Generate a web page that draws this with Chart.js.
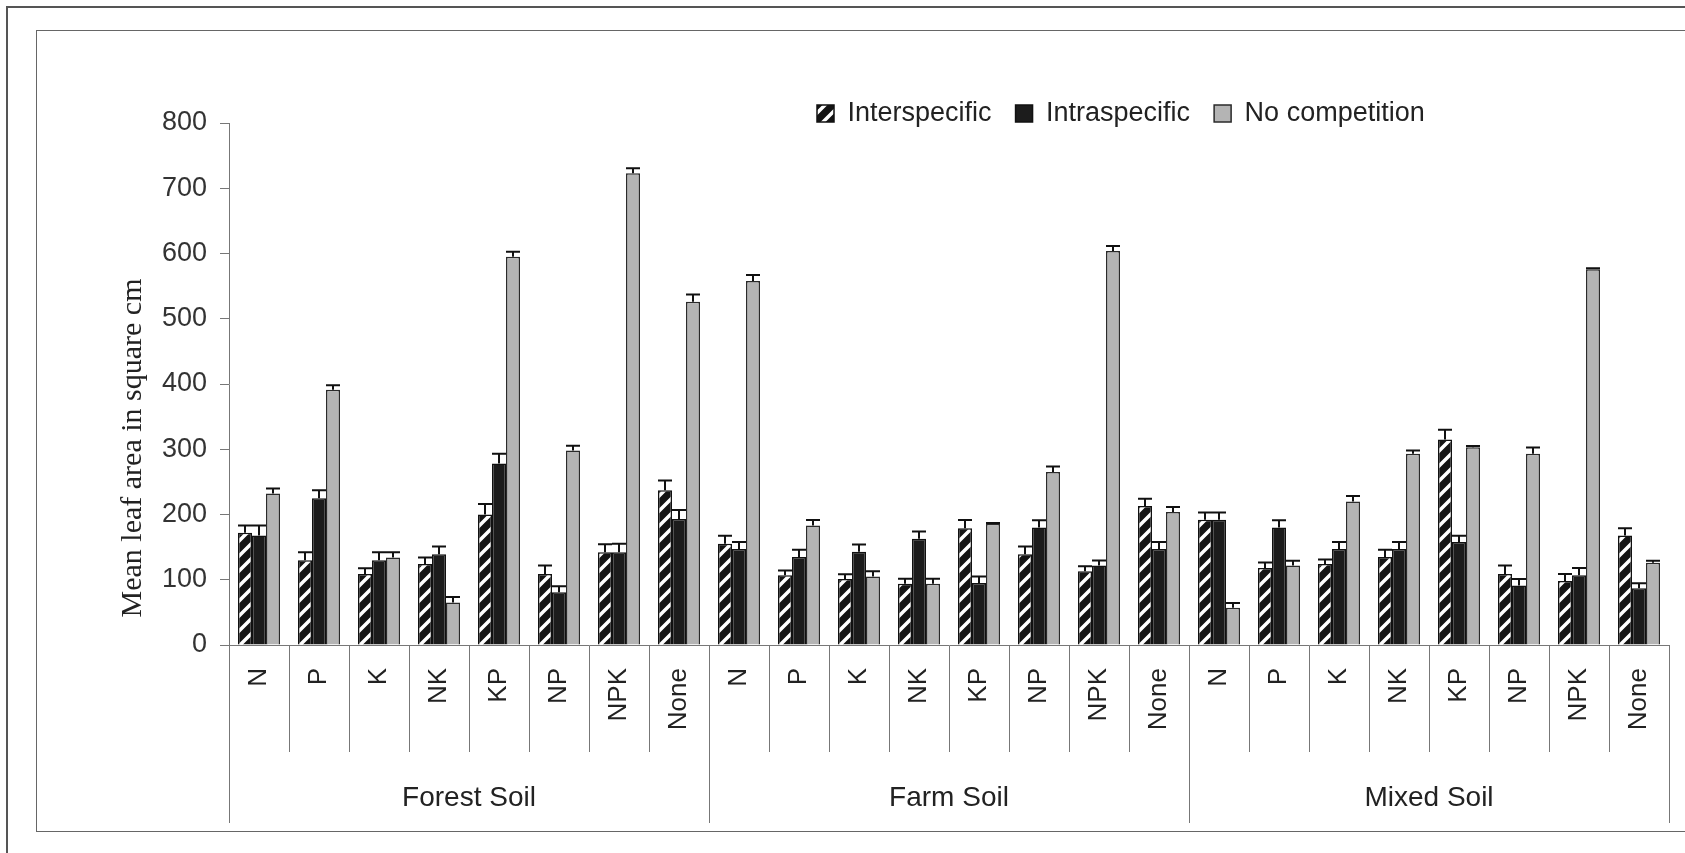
<!DOCTYPE html>
<html>
<head>
<meta charset="utf-8">
<script src="https://cdn.jsdelivr.net/npm/chart.js@4"></script>
<style>
  html, body { margin: 0; padding: 0; background: #fff; overflow: hidden; }
  #outer { position: absolute; left: 6px; top: 6px; width: 1800px; height: 1000px; border: 2px solid #555; }
  #inner { position: absolute; left: 36px; top: 30px; width: 1760px; height: 800px; border: 1.5px solid #666; }
  #chart { position: absolute; left: 0; top: 0; }
</style>
</head>
<body>
<div id="outer"></div>
<div id="inner"></div>
<canvas id="chart" width="1685" height="853"></canvas>
<script>
const soils = ["Forest Soil", "Farm Soil", "Mixed Soil"];
const treatments = ["N", "P", "K", "NK", "KP", "NP", "NPK", "None"];
const yTicks = [0, 100, 200, 300, 400, 500, 600, 700, 800];

const interspecific = [172, 130, 109, 124, 200, 109, 142, 237,
                       155, 107, 101, 94, 179, 139, 113, 213,
                       192, 118, 124, 135, 315, 109, 98, 168];
const intraspecific = [168, 225, 130, 139, 278, 81, 142, 193,
                       147, 135, 143, 163, 95, 180, 122, 147,
                       192, 180, 147, 147, 158, 91, 107, 87];
const noCompetition = [232, 391, 134, 65, 595, 298, 723, 526,
                       558, 183, 105, 94, 186, 265, 604, 204,
                       57, 122, 220, 293, 303, 293, 576, 126];

const interErr = [11, 12, 8.5, 10, 16, 13, 12.5, 15,
                  12.5, 7, 7.5, 7.5, 12.5, 12, 7.5, 11,
                  11, 8.5, 7, 11, 15, 13, 11, 11];
const intraErr = [15, 12, 12, 12, 15, 9, 13, 14,
                  11, 11, 11, 11, 10, 11, 7.5, 11,
                  11, 11, 11, 11, 9.6, 10, 11, 7.5];
const noCompErr = [8, 7, 8, 8.5, 7.5, 7.5, 7.5, 11,
                   9, 8.5, 8, 7.5, 1, 8.5, 7.5, 7.5,
                   7.5, 7, 8.5, 5, 2, 9.6, 1.5, 3];

// one label per bar group: treatments repeated for each soil
const labels = [];
soils.forEach(() => treatments.forEach(t => labels.push(t)));

function hatchPattern() {
  const size = 15;
  const c = document.createElement("canvas");
  c.width = size;
  c.height = size;
  const g = c.getContext("2d");
  g.fillStyle = "#141414";
  g.fillRect(0, 0, size, size);
  g.strokeStyle = "#ffffff";
  g.lineWidth = 3.5;
  g.beginPath();
  g.moveTo(-2, size + 2); g.lineTo(size + 2, -2);
  g.moveTo(-2, 2); g.lineTo(2, -2);
  g.moveTo(size - 2, size + 2); g.lineTo(size + 2, size - 2);
  g.stroke();
  return g.createPattern(c, "repeat");
}

const errorBars = {
  id: "errorBars",
  afterDatasetsDraw(chart) {
    const ctx = chart.ctx;
    const yScale = chart.scales.y;
    ctx.save();
    ctx.strokeStyle = "#111";
    ctx.lineWidth = 2;
    chart.data.datasets.forEach((ds, i) => {
      const meta = chart.getDatasetMeta(i);
      meta.data.forEach((bar, j) => {
        const top = yScale.getPixelForValue(ds.data[j] + ds.errors[j]);
        const half = bar.width / 2;
        ctx.beginPath();
        ctx.moveTo(bar.x, bar.y);
        ctx.lineTo(bar.x, top);
        ctx.moveTo(bar.x - half, top);
        ctx.lineTo(bar.x + half, top);
        ctx.stroke();
      });
    });
    ctx.restore();
  }
};

const yTitle = {
  id: "yTitle",
  afterDraw(chart) {
    const ctx = chart.ctx;
    const area = chart.chartArea;
    ctx.save();
    ctx.translate(area.left - 96, area.top + 325);
    ctx.rotate(-Math.PI / 2);
    ctx.font = '30px "Liberation Serif", "Times New Roman", serif';
    ctx.fillStyle = "#222";
    ctx.textAlign = "center";
    ctx.textBaseline = "middle";
    ctx.fillText("Mean leaf area in square cm", 0, 0);
    ctx.restore();
  }
};

// legend sits right of centre in the original
const legendPlace = {
  id: "legendPlace",
  afterLayout(chart) {
    const lg = chart.legend;
    const h = lg.height;
    lg.left = 793;
    lg.top = 76;
    lg.bottom = lg.top + h;
  }
};

const chart = new Chart(document.getElementById("chart").getContext("2d"), {
  type: "bar",
  data: {
    labels: labels,
    datasets: [{
      label: "Interspecific",
      data: interspecific,
      errors: interErr,
      backgroundColor: hatchPattern(),
      borderColor: "#111",
      borderWidth: 1.5
    }, {
      label: "Intraspecific",
      data: intraspecific,
      errors: intraErr,
      backgroundColor: "#1c1c1c",
      borderColor: "#111",
      borderWidth: 1.5
    }, {
      label: "No competition",
      data: noCompetition,
      errors: noCompErr,
      backgroundColor: "#b4b4b4",
      borderColor: "#2a2a2a",
      borderWidth: 1.5
    }]
  },
  options: {
    responsive: false,
    animation: false,
    layout: { padding: { top: 62, right: 16, bottom: 0, left: 0 } },
    datasets: { bar: { categoryPercentage: 0.7, barPercentage: 1.0 } },
    plugins: {
      tooltip: { enabled: false },
      legend: {
        position: "top",
        align: "start",
        labels: {
          boxWidth: 17,
          boxHeight: 17,
          padding: 24,
          color: "#222",
          font: { family: '"Liberation Sans", Arial, sans-serif', size: 27 }
        }
      }
    },
    scales: {
      x: {
        weight: 0,
        offset: true,
        grid: { offset: true, drawOnChartArea: false, tickLength: 107, color: "#777", lineWidth: 1 },
        border: { display: true, color: "#777", width: 1 },
        ticks: {
          autoSkip: false,
          minRotation: 90,
          maxRotation: 90,
          padding: -84,
          color: "#222",
          font: { family: '"Liberation Sans", Arial, sans-serif', size: 26 }
        },
        afterFit(scale) { scale.height = 107; }
      },
      soil: {
        type: "category",
        position: "bottom",
        weight: 1,
        labels: soils,
        offset: true,
        grid: { offset: true, drawOnChartArea: false, tickLength: 71, color: "#777", lineWidth: 1 },
        border: { display: false },
        ticks: {
          padding: -42,
          color: "#222",
          font: { family: '"Liberation Sans", Arial, sans-serif', size: 28 }
        },
        afterFit(scale) { scale.height = 101; }
      },
      y: {
        min: 0,
        max: 800,
        afterBuildTicks(scale) { scale.ticks = yTicks.map(v => ({ value: v })); },
        grid: { drawOnChartArea: false, tickLength: 9, color: "#777" },
        border: { display: true, color: "#777", width: 1 },
        ticks: {
          padding: 13,
          color: "#333",
          font: { family: '"Liberation Sans", Arial, sans-serif', size: 27 }
        },
        afterFit(scale) { scale.width = 229; }
      }
    }
  },
  plugins: [errorBars, yTitle, legendPlace]
});
</script>
</body>
</html>
